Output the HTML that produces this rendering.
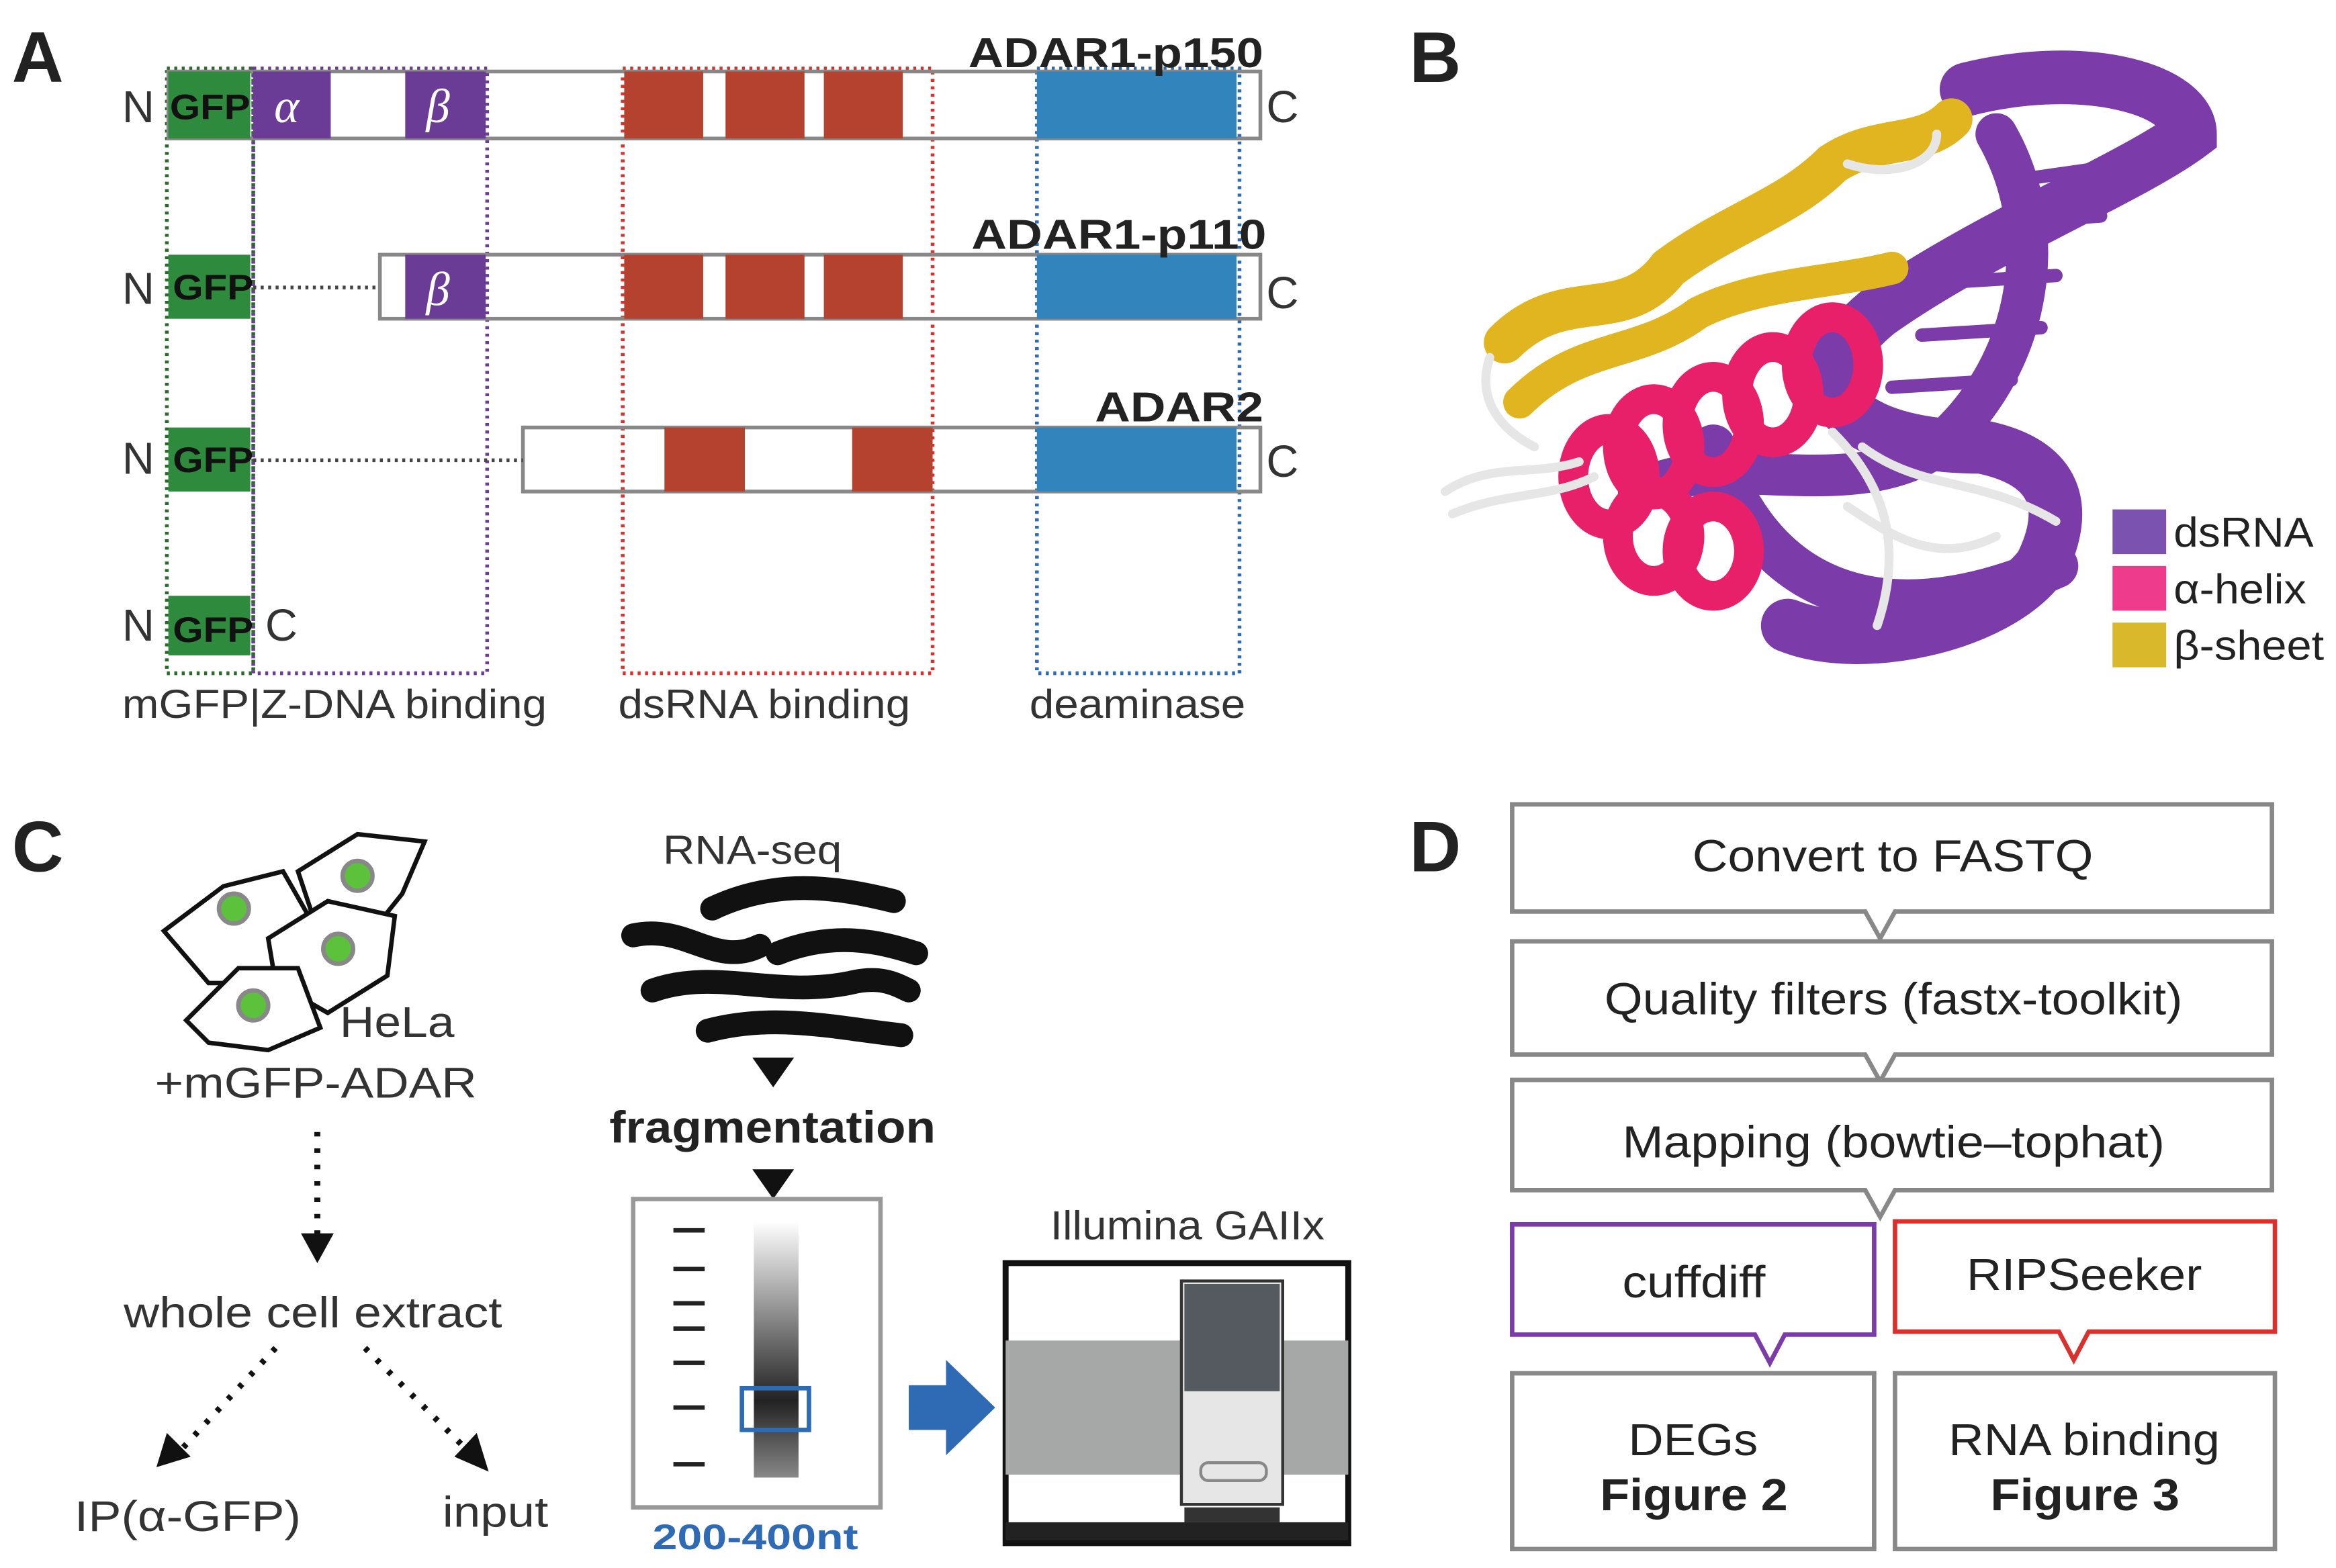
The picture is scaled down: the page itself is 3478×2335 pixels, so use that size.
<!DOCTYPE html>
<html><head><meta charset="utf-8"><style>
html,body{margin:0;padding:0;background:#fff}
svg{display:block}
text{font-family:"Liberation Sans","DejaVu Sans",sans-serif}
</style></head><body>
<svg width="3478" height="2335" viewBox="0 0 1568 1052.7" xmlns="http://www.w3.org/2000/svg">
<rect width="1568" height="1053" fill="#fff"/>
<g font-weight="bold" font-size="48" fill="#222">
<text x="8" y="55">A</text><text x="946" y="55">B</text><text x="8" y="585">C</text><text x="946" y="585">D</text>
</g>
<!-- Panel A -->
<g>
<rect x="112" y="46" width="58" height="406" fill="none" stroke="#2a6a2a" stroke-width="2.5" stroke-dasharray="2,3"/>
<rect x="170" y="46" width="157" height="406" fill="none" stroke="#6a3c96" stroke-width="2.5" stroke-dasharray="2,3"/>
<rect x="418" y="46" width="208" height="406" fill="none" stroke="#d8322e" stroke-width="2.5" stroke-dasharray="2,3"/>
<rect x="696" y="46" width="136" height="406" fill="none" stroke="#2f6bb5" stroke-width="2.5" stroke-dasharray="2,3"/>
<rect x="113" y="48" width="733" height="45" fill="none" stroke="#888" stroke-width="2.5"/>
<rect x="113" y="48" width="55" height="45" fill="#2e8b3e"/>
<rect x="170" y="48" width="52" height="45" fill="#6a3c96"/>
<rect x="272" y="48" width="54" height="45" fill="#6a3c96"/>
<rect x="419" y="48" width="53" height="45" fill="#b5412f"/>
<rect x="487" y="48" width="53" height="45" fill="#b5412f"/>
<rect x="553" y="48" width="53" height="45" fill="#b5412f"/>
<rect x="696" y="48" width="134" height="45" fill="#3284bd"/>
<rect x="255" y="171" width="591" height="43" fill="none" stroke="#888" stroke-width="2.5"/>
<line x1="170" y1="193" x2="255" y2="193" stroke="#444" stroke-width="2.5" stroke-dasharray="2,3"/>
<rect x="113" y="171" width="55" height="43" fill="#2e8b3e"/>
<rect x="272" y="171" width="54" height="43" fill="#6a3c96"/>
<rect x="419" y="171" width="53" height="43" fill="#b5412f"/>
<rect x="487" y="171" width="53" height="43" fill="#b5412f"/>
<rect x="553" y="171" width="53" height="43" fill="#b5412f"/>
<rect x="696" y="171" width="134" height="43" fill="#3284bd"/>
<rect x="351" y="287" width="495" height="43" fill="none" stroke="#888" stroke-width="2.5"/>
<line x1="170" y1="309" x2="351" y2="309" stroke="#444" stroke-width="2.5" stroke-dasharray="2,3"/>
<rect x="113" y="287" width="55" height="43" fill="#2e8b3e"/>
<rect x="446" y="287" width="54" height="43" fill="#b5412f"/>
<rect x="572" y="287" width="54" height="43" fill="#b5412f"/>
<rect x="696" y="287" width="134" height="43" fill="#3284bd"/>
<rect x="113" y="400" width="55" height="40" fill="#2e8b3e"/>
<g font-size="24" font-weight="bold" fill="#111">
<text x="114" y="80" textLength="54" lengthAdjust="spacingAndGlyphs">GFP</text><text x="116" y="201" textLength="54" lengthAdjust="spacingAndGlyphs">GFP</text><text x="116" y="317" textLength="54" lengthAdjust="spacingAndGlyphs">GFP</text><text x="116" y="431" textLength="54" lengthAdjust="spacingAndGlyphs">GFP</text>
</g>
<g font-style="italic" font-size="32" fill="#fff">
<text x="184" y="82" style="font-family:'Liberation Serif',serif">α</text>
<text x="286" y="82" style="font-family:'Liberation Serif',serif">β</text>
<text x="286" y="205" style="font-family:'Liberation Serif',serif">β</text>
</g>
<g font-size="30" fill="#333">
<text x="82" y="82">N</text><text x="850" y="82">C</text>
<text x="82" y="204">N</text><text x="850" y="207">C</text>
<text x="82" y="318">N</text><text x="850" y="320">C</text>
<text x="82" y="430">N</text><text x="178" y="430">C</text>
</g>
<g font-size="28" font-weight="bold" fill="#222">
<text x="650" y="45" textLength="198" lengthAdjust="spacingAndGlyphs">ADAR1-p150</text>
<text x="652" y="167" textLength="198" lengthAdjust="spacingAndGlyphs">ADAR1-p110</text>
<text x="735" y="283" textLength="113" lengthAdjust="spacingAndGlyphs">ADAR2</text>
</g>
<g font-size="27" fill="#333">
<text x="82" y="482" textLength="285" lengthAdjust="spacingAndGlyphs">mGFP|Z-DNA binding</text>
<text x="415" y="482" textLength="196" lengthAdjust="spacingAndGlyphs">dsRNA binding</text>
<text x="691" y="482" textLength="145" lengthAdjust="spacingAndGlyphs">deaminase</text>
</g>
</g>
<!-- Panel B -->
<g fill="none" stroke-linecap="round">
<path d="M1320 60 C1400 40 1470 60 1470 90 C1430 120 1330 160 1260 210 C1200 260 1240 300 1330 300 C1380 310 1390 340 1370 380 C1340 420 1250 440 1200 420" stroke="#7b3ba8" stroke-width="36"/>
<path d="M1340 90 C1380 160 1360 250 1300 300 C1240 340 1150 300 1100 330" stroke="#7b3ba8" stroke-width="28"/>
<g stroke="#7b3ba8" stroke-width="9">
<line x1="1360" y1="120" x2="1430" y2="110"/><line x1="1340" y1="150" x2="1410" y2="145"/><line x1="1300" y1="190" x2="1380" y2="185"/><line x1="1290" y1="225" x2="1370" y2="220"/><line x1="1270" y1="260" x2="1350" y2="255"/>
</g>
<path d="M1150 300 C1190 420 1290 420 1380 380" stroke="#7b3ba8" stroke-width="30"/>
<g stroke="#e8206a" stroke-width="20">
<ellipse cx="1230" cy="245" rx="24" ry="32"/><ellipse cx="1190" cy="265" rx="24" ry="32"/><ellipse cx="1150" cy="285" rx="24" ry="32"/><ellipse cx="1110" cy="300" rx="24" ry="32"/><ellipse cx="1080" cy="320" rx="24" ry="32"/><ellipse cx="1110" cy="360" rx="24" ry="30"/><ellipse cx="1150" cy="370" rx="24" ry="30"/>
</g>
<path d="M1010 230 C1050 190 1090 220 1120 180 C1160 150 1200 140 1230 110 C1260 90 1290 100 1310 80" stroke="#e0b51f" stroke-width="28"/>
<path d="M1020 270 C1060 230 1100 240 1140 210 C1180 190 1230 190 1270 180" stroke="#e0b51f" stroke-width="22"/>
<g stroke="#e6e6e6" stroke-width="6">
<path d="M970 330 C1000 310 1030 320 1060 310"/><path d="M975 345 C1010 330 1040 335 1070 320"/><path d="M1230 290 C1260 320 1280 360 1260 420"/><path d="M1250 300 C1290 330 1330 320 1380 350"/><path d="M1240 340 C1270 360 1300 380 1340 360"/><path d="M1000 240 C990 270 1010 290 1030 300"/><path d="M1240 110 C1270 120 1300 110 1300 90"/>
</g>
</g>
<rect x="1418" y="342" width="36" height="30" fill="#7b52b0"/>
<rect x="1418" y="380" width="36" height="30" fill="#ef3b8c"/>
<rect x="1418" y="418" width="36" height="30" fill="#d9b82c"/>
<g font-size="28" fill="#222">
<text x="1459" y="367" textLength="94" lengthAdjust="spacingAndGlyphs">dsRNA</text>
<text x="1459" y="405" textLength="89" lengthAdjust="spacingAndGlyphs">α-helix</text>
<text x="1459" y="443" textLength="101" lengthAdjust="spacingAndGlyphs">β-sheet</text></g>
<!-- Panel C -->
<g stroke="#111" stroke-width="3" fill="#fff">
<path d="M110 625 L150 595 L190 585 L210 620 L190 660 L140 660 Z"/>
<path d="M200 585 L240 560 L285 565 L270 600 L250 625 L210 615 Z"/>
<path d="M180 630 L220 605 L265 615 L260 655 L220 680 L185 660 Z"/>
<path d="M125 685 L160 650 L200 650 L215 690 L180 705 L140 700 Z"/>
</g>
<g fill="#5cc23c" stroke="#888" stroke-width="3">
<circle cx="157" cy="610" r="10"/><circle cx="240" cy="588" r="10"/><circle cx="227" cy="637" r="10"/><circle cx="170" cy="675" r="10"/>
</g>
<g font-size="29" fill="#333">
<text x="228" y="696" textLength="77" lengthAdjust="spacingAndGlyphs">HeLa</text>
<text x="104" y="737" textLength="216" lengthAdjust="spacingAndGlyphs">+mGFP-ADAR</text>
<text x="83" y="891" textLength="254" lengthAdjust="spacingAndGlyphs">whole cell extract</text>
<text x="50" y="1028" textLength="152" lengthAdjust="spacingAndGlyphs">IP(α-GFP)</text>
<text x="297" y="1025" textLength="71" lengthAdjust="spacingAndGlyphs">input</text>
<text x="445" y="580" font-size="27" textLength="120" lengthAdjust="spacingAndGlyphs">RNA-seq</text>
<text x="705" y="832" font-size="27" textLength="184" lengthAdjust="spacingAndGlyphs">Illumina GAIIx</text>
</g>
<g stroke="#111" stroke-width="4" stroke-dasharray="3,8" fill="none">
<line x1="213" y1="760" x2="213" y2="830"/><line x1="185" y1="905" x2="120" y2="975"/><line x1="245" y1="905" x2="315" y2="975"/>
</g>
<g fill="#111">
<polygon points="202,828 224,828 213,848"/>
<polygon points="105,985 112,962 128,978"/>
<polygon points="328,988 305,978 320,962"/>
<polygon points="505,710 533,710 519,730"/>
<polygon points="505,785 533,785 519,805"/>
</g>
<g stroke="#111" stroke-width="16" fill="none" stroke-linecap="round">
<path d="M478 610 C520 590 560 595 600 605"/>
<path d="M425 628 C460 620 480 650 510 635"/>
<path d="M522 640 C560 625 590 632 615 640"/>
<path d="M438 665 C480 650 520 670 570 660 C590 655 600 660 610 665"/>
<path d="M475 692 C520 680 560 690 605 695"/>
</g>
<text x="409" y="767" font-size="30" font-weight="bold" fill="#222" textLength="219" lengthAdjust="spacingAndGlyphs">fragmentation</text>
<defs><linearGradient id="g" x1="0" y1="0" x2="0" y2="1"><stop offset="0" stop-color="#fff"/><stop offset="0.7" stop-color="#222"/><stop offset="1" stop-color="#888"/></linearGradient></defs>
<rect x="425" y="805" width="166" height="207" fill="#fff" stroke="#999" stroke-width="3"/>
<rect x="506" y="820" width="30" height="172" fill="url(#g)"/>
<g stroke="#222" stroke-width="3">
<line x1="452" y1="826" x2="473" y2="826"/><line x1="452" y1="852" x2="473" y2="852"/><line x1="452" y1="875" x2="473" y2="875"/><line x1="452" y1="892" x2="473" y2="892"/><line x1="452" y1="915" x2="473" y2="915"/><line x1="452" y1="945" x2="473" y2="945"/><line x1="452" y1="983" x2="473" y2="983"/>
</g>
<rect x="498" y="932" width="45" height="28" fill="none" stroke="#2f6bb5" stroke-width="3"/>
<text x="438" y="1040" font-size="24" font-weight="bold" fill="#2f6bb5" textLength="138" lengthAdjust="spacingAndGlyphs">200-400nt</text>
<polygon points="610,930 635,930 635,913 668,945 635,977 635,960 610,960" fill="#2f6bb5"/>
<rect x="675" y="848" width="230" height="188" fill="#fff" stroke="#111" stroke-width="4"/>
<rect x="675" y="900" width="230" height="90" fill="#a5a8a6"/>
<rect x="793" y="860" width="68" height="150" fill="#e6e6e6" stroke="#333" stroke-width="2"/>
<rect x="795" y="862" width="64" height="72" fill="#555a60"/>
<rect x="806" y="982" width="44" height="12" rx="5" fill="none" stroke="#888" stroke-width="2"/>
<rect x="795" y="1012" width="64" height="10" fill="#333"/>
<rect x="675" y="1022" width="230" height="12" fill="#222"/>
<!-- Panel D -->
<g fill="#fff" stroke="#888" stroke-width="3">
<path d="M1015 540 H1525 V612 H1272 L1262 630 L1252 612 H1015 Z"/>
<path d="M1015 632 H1525 V708 H1272 L1262 726 L1252 708 H1015 Z"/>
<path d="M1015 725 H1525 V799 H1272 L1262 817 L1252 799 H1015 Z"/>
<path d="M1015 922 H1258 V1040 H1015 Z"/>
<path d="M1272 922 H1527 V1040 H1272 Z"/>
</g>
<path d="M1015 822 H1258 V896 H1198 L1188 915 L1178 896 H1015 Z" fill="#fff" stroke="#7b3ba8" stroke-width="3"/>
<path d="M1272 820 H1527 V894 H1402 L1392 913 L1382 894 H1272 Z" fill="#fff" stroke="#d8322e" stroke-width="3"/>
<g font-size="30" fill="#222">
<text x="1136" y="585" textLength="269" lengthAdjust="spacingAndGlyphs">Convert to FASTQ</text>
<text x="1077" y="681" textLength="388" lengthAdjust="spacingAndGlyphs">Quality filters (fastx-toolkit)</text>
<text x="1089" y="777" textLength="364" lengthAdjust="spacingAndGlyphs">Mapping (bowtie–tophat)</text>
<text x="1089" y="871" textLength="96" lengthAdjust="spacingAndGlyphs">cuffdiff</text>
<text x="1320" y="866" textLength="158" lengthAdjust="spacingAndGlyphs">RIPSeeker</text>
<text x="1093" y="977" textLength="87" lengthAdjust="spacingAndGlyphs">DEGs</text>
<text x="1074" y="1014" font-weight="bold" textLength="126" lengthAdjust="spacingAndGlyphs">Figure 2</text>
<text x="1308" y="977" textLength="182" lengthAdjust="spacingAndGlyphs">RNA binding</text>
<text x="1336" y="1014" font-weight="bold" textLength="127" lengthAdjust="spacingAndGlyphs">Figure 3</text>
</g>
</svg>
</body></html>
